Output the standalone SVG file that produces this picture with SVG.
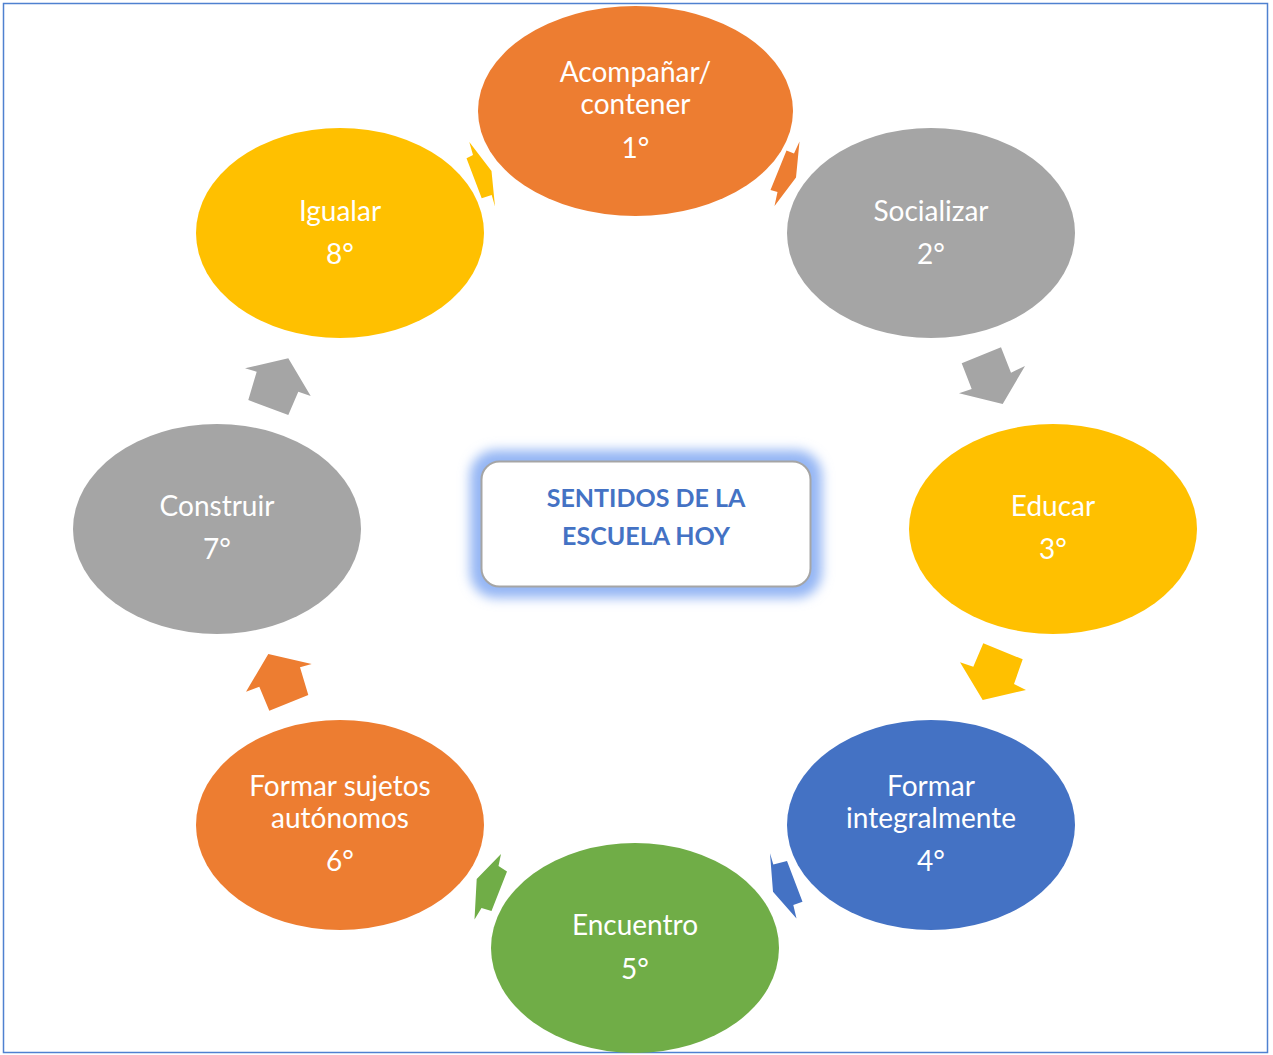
<svg xmlns="http://www.w3.org/2000/svg" width="1273" height="1055" viewBox="0 0 1273 1055">
<style>
.lbl{font-family:Lato,"Open Sans","Liberation Sans",sans-serif;font-size:28px;fill:#ffffff;text-anchor:middle}
.ttl{font-family:Lato,"Open Sans","Liberation Sans",sans-serif;font-size:25px;font-weight:bold;fill:#4472C4;text-anchor:middle}
.or{fill:#ED7D31}.gr{fill:#A5A5A5}.ye{fill:#FFC000}.bl{fill:#4472C4}.gn{fill:#70AD47}
</style>
<defs>
<filter id="glow" x="-20%" y="-40%" width="140%" height="180%">
<feGaussianBlur stdDeviation="6"/>
</filter>
</defs>
<rect x="0" y="0" width="1273" height="1055" fill="#ffffff"/>
<rect x="3.5" y="3.5" width="1264" height="1049" fill="none" stroke="#4F81D0" stroke-width="1.5"/>
<g id="connectors">
<polygon class="or" points="799.5,141.5 796,177.5 774.5,206 777.5,192 770.5,190 786.5,150.5 794,153.5"/>
<polygon class="gr" points="961.7,363.3 1001,347.3 1011,372.7 1025,366 1002.7,404 959,393.3 971.7,389"/>
<polygon class="ye" points="983.3,643.3 1022.7,659.3 1014,684 1026,690 982.7,700 960,662.3 973.3,666.7"/>
<polygon class="bl" points="770,853.3 773.3,864.5 787,861 802.5,901.7 793.3,905 796.5,918.5 773,891.7"/>
<polygon class="gn" points="501,854 498.5,866 507,871.5 491.5,911 481.5,908 474.5,919.5 476.7,879"/>
<polygon class="or" points="268.3,654 311.7,664 300,667.3 308.3,695 269.3,710.7 259.3,686.7 246,691.7"/>
<polygon class="gr" points="245,368.3 288.3,358.3 310.7,396 298.3,391.7 288.3,415 248.3,400 256.7,371.7"/>
<polygon class="ye" points="469.3,142 473,155 466.5,158.3 481.7,198.3 491.7,195 495,206.5 491.5,171"/>
</g>
<g id="n1"><ellipse class="or" cx="635.5" cy="111" rx="157.5" ry="105"/>
<text class="lbl" x="635.5" y="82">Acompañar/</text><text class="lbl" x="635.5" y="114">contener</text><text class="lbl" x="635.5" y="158">1°</text></g>
<g id="n2"><ellipse class="gr" cx="931" cy="233" rx="144" ry="105"/>
<text class="lbl" x="931" y="221">Socializar</text><text class="lbl" x="931" y="264">2°</text></g>
<g id="n3"><ellipse class="ye" cx="1053" cy="529" rx="144" ry="105"/>
<text class="lbl" x="1053" y="516">Educar</text><text class="lbl" x="1053" y="559">3°</text></g>
<g id="n4"><ellipse class="bl" cx="931" cy="825" rx="144" ry="105"/>
<text class="lbl" x="931" y="796">Formar</text><text class="lbl" x="931" y="828">integralmente</text><text class="lbl" x="931" y="871">4°</text></g>
<g id="n5"><ellipse class="gn" cx="635" cy="948" rx="144" ry="105"/>
<text class="lbl" x="635" y="935">Encuentro</text><text class="lbl" x="635" y="979">5°</text></g>
<g id="n6"><ellipse class="or" cx="340" cy="825" rx="144" ry="105"/>
<text class="lbl" x="340" y="796">Formar sujetos</text><text class="lbl" x="340" y="828">autónomos</text><text class="lbl" x="340" y="871">6°</text></g>
<g id="n7"><ellipse class="gr" cx="217" cy="529" rx="144" ry="105"/>
<text class="lbl" x="217" y="516">Construir</text><text class="lbl" x="217" y="559">7°</text></g>
<g id="n8"><ellipse class="ye" cx="340" cy="233" rx="144" ry="105"/>
<text class="lbl" x="340" y="221">Igualar</text><text class="lbl" x="340" y="264">8°</text></g>
<g id="center">
<rect x="470" y="450" width="352" height="148" rx="26" fill="#94B6F4" filter="url(#glow)"/>
<rect x="481.5" y="461.5" width="329" height="125" rx="18" fill="#ffffff" stroke="#A5A5A5" stroke-width="2"/>
<text class="ttl" x="646" y="507">SENTIDOS DE LA</text>
<text class="ttl" x="646" y="545">ESCUELA HOY</text>
</g>
</svg>
